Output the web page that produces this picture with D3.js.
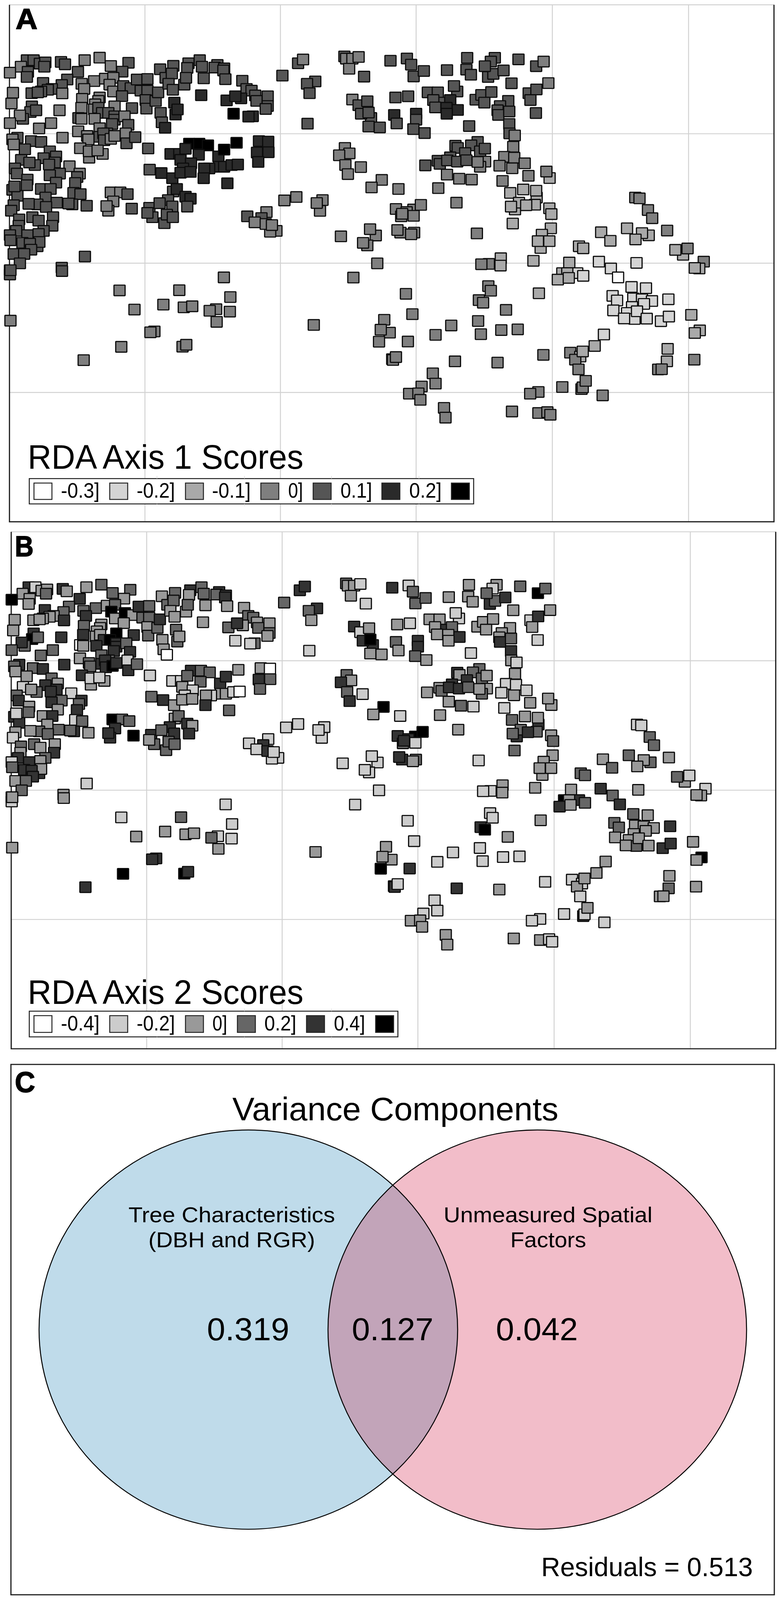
<!DOCTYPE html>
<html>
<head>
<meta charset="utf-8">
<title>RDA scores and variance components</title>
<script src="https://cdn.jsdelivr.net/npm/d3@7"></script>
<style>
	html, body { margin: 0; padding: 0; background: #fff; overflow: hidden; }
	text { font-family: "Liberation Sans", Arial, sans-serif; fill: #000; }
</style>
</head>
<body>
<div id="viz_area"></div>
<script>
// each row is [x, y, axis 1 class, axis 2 class], positions read from the picture in map units
// the map was read in four blocks, they get joined in allTrees()
var treesNW = [
	[108,352,4,4],[135,352,4,1],[160,372,4,2],[182,365,4,2],[178,390,4,3],[84,390,3,2],[40,425,3,5],
	[112,420,4,2],[108,450,4,2],[245,362,4,4],[261,376,4,2],[340,352,3,2],[400,337,3,3],[313,420,4,4],
	[445,386,3,3],[516,367,4,3],[491,419,4,2],[173,485,4,4],[270,465,4,3],[248,497,4,3],[208,520,4,2],
	[192,525,4,2],[165,535,4,2],[127,545,4,2],[152,540,4,2],[250,546,3,4],[328,490,3,3],[378,474,3,3],
	[422,460,3,2],[338,520,3,4],[455,455,3,3],[440,495,3,5],[455,535,3,2],[495,503,4,5],[525,515,4,2],
	[550,465,4,4],[592,462,4,3],[565,530,4,3],[592,530,4,3],[490,562,4,2],[400,570,3,2],[330,578,3,3],
	[395,590,3,2],[52,542,3,2],[46,605,3,2],[128,622,4,4],[122,655,4,5],[145,645,4,3],[239,645,3,4],
	[92,695,4,3],[80,675,3,4],[40,720,3,3],[205,720,3,3],[157,751,3,3],[382,610,3,2],[327,630,3,4],
	[378,640,3,2],[460,622,3,5],[530,632,4,4],[585,585,4,2],[588,635,4,3],[625,590,4,3],[635,540,4,4],
	[645,660,4,2],[700,600,5,3],[705,670,5,3],[713,640,5,2],[650,715,4,2],[663,747,5,0],[643,405,4,2],
	[696,385,4,3],[665,455,4,3],[690,430,4,3],[677,490,4,2],[694,525,4,2],[740,495,4,2],[757,370,4,4],
	[752,397,4,2],[747,455,4,3],[802,352,4,3],[811,390,4,3],[873,380,4,4],[862,395,4,3],[900,400,4,4],
	[897,412,4,4],[905,463,4,2],[818,458,4,2],[808,557,5,2],[910,587,5,3],[973,472,4,2],[990,520,4,3],
	[1010,530,4,3],[968,575,5,2],[945,563,5,4],[1025,558,4,2],[1075,563,4,2],[1030,590,4,3],[1075,620,4,3],
	[1067,637,4,2],[938,665,6,1],[1015,680,5,3],[998,682,5,1],
	[315,690,4,0],[327,695,3,2],[395,630,4,2],[410,660,4,4],[435,660,4,5],[460,680,4,4],[460,700,4,4],
	[500,680,3,3],[380,695,3,4],[450,725,4,4],[515,730,4,4],[400,750,3,3],[430,780,4,3],[400,800,4,4],
	[415,780,4,4],[505,780,3,1],[314,768,3,2],[350,795,3,3],[355,815,3,3],[418,820,4,4],[445,812,3,5],
	[460,795,3,4],[508,838,4,4],[543,802,4,3],[251,805,3,4],[322,867,3,4],[412,900,3,2],[358,922,3,2],
	[357,885,3,1],[392,880,3,1],
	[70,805,4,4],[50,815,3,3],[125,825,4,3],[165,830,4,4],[55,845,3,2],[100,873,4,2],[200,885,4,3],
	[85,935,4,1],[225,915,4,2],[175,925,4,4],[140,965,4,3],[118,950,4,2],[220,950,4,4],[197,962,4,4],
	[279,972,3,1],[60,985,4,3],[68,1015,4,4],[240,1015,4,3],[200,1025,4,4],[225,1068,4,2],[320,1015,3,4],
	[310,1035,4,3],[302,1070,4,4],[110,1050,4,2],[50,1110,4,4],[70,1145,4,4],[58,1090,4,1],[108,1083,4,3],
	[165,1105,4,2],[203,1105,4,4],[183,1155,4,2],[295,1128,4,1],[323,1135,4,3],[445,1125,3,5],[483,1125,3,3],
	[512,1135,4,3],[455,1178,3,4],[435,1232,3,4],[428,1205,3,4],[529,1220,4,5],[348,1203,4,2],[290,1195,4,4],
	[275,1190,4,3],[228,1185,4,3],[150,1195,4,3],[115,1192,4,2],[185,1210,4,3],[55,1200,4,2],[45,1232,4,1],
	[130,1270,4,3],[155,1290,4,2],[213,1270,4,2],[210,1320,4,4],[175,1350,4,3],[77,1283,4,3],[75,1320,4,2],
	[65,1350,4,4],[110,1375,4,4],[40,1375,4,1],[42,1405,4,3],[155,1368,4,2],[150,1440,4,4],[158,1415,4,2],
	[90,1420,4,4],[120,1425,4,4],[125,1460,4,4],[55,1485,4,2],[97,1485,4,3],[80,1540,4,3],[341,1500,4,1],
	[248,1565,4,2],[40,1580,4,2],
	[595,868,4,1],[601,992,4,3],[648,1012,5,4],[692,1042,5,2],[685,900,5,1],[720,900,5,1],[725,935,5,2],
	[760,840,6,4],[800,840,6,3],[835,850,6,3],[745,870,5,3],[798,905,5,3],[877,915,5,4],[900,875,6,4],
	[950,835,6,2],[1040,825,5,2],[1077,828,5,0],[1032,892,5,4],[1078,890,5,3],[1037,947,5,3],[880,975,5,2],
	[900,975,5,2],[930,965,5,1],[955,962,5,0],[840,985,5,1],[820,985,5,2],[767,955,5,1],[735,985,5,1],
	[725,1010,5,2],[765,1005,5,2],[818,1042,5,4],[913,1072,5,3],[695,1120,4,2],[710,1105,5,3],[745,1150,5,4],
	[765,1162,5,2],[752,1208,4,4],[675,1170,4,4],[600,1215,4,4],[612,1270,4,3],[641,1188,4,3],[692,1207,4,4],
	[660,1305,4,3],[592,1245,4,2],[670,1255,4,3],[694,1270,4,3],
	[1134,442,4,3],[1197,370,4,4],[1217,348,3,4],[1266,476,4,4],[1233,490,4,3],[1243,545,4,2],[1235,723,4,1],
	[1383,330,4,3],[1390,343,3,2],[1415,343,3,2],[1440,333,3,1],[1402,402,3,2],[1462,448,4,1],[1415,582,3,4],
	[1440,615,4,1],[1475,592,4,2],[1490,690,4,4],[1450,665,4,4],[1480,658,4,5],[1480,740,4,2],[1525,745,4,2],
	[1385,865,3,3],[1403,897,3,2],[1362,908,3,4],[1387,965,3,3],[1397,1018,3,4],[1449,977,3,1],[1533,1052,3,5],
	[1492,1096,3,2],[1142,1172,3,1],[1190,1152,3,1],[1295,1170,3,1],[1285,1233,3,1],[1272,1187,3,1],[993,1265,4,1],
	[1070,1240,3,1],[1050,1275,4,4],[1023,1300,3,1],[1110,1350,3,1],[1085,1355,3,1],[1067,1310,3,4],[1092,1316,3,1],
	[1369,1382,3,1],[1509,1377,3,1],[1486,1340,3,1],[1475,1435,3,1],[1458,1420,3,1],[1515,1540,3,1]
];

var treesNE = [
	[0,355,4,4],[66,342,4,1],[83,378,4,3],[93,447,4,3],[134,415,4,3],[227,410,4,2],[308,338,4,2],[305,407,4,2],
	[323,437,4,2],[419,338,4,2],[403,360,4,1],[392,450,4,4],[413,432,4,3],[454,412,4,4],[379,387,4,3],[514,347,4,3],
	[585,387,4,5],[615,360,3,3],[486,487,4,2],[634,486,3,2],[555,545,4,1],[586,523,4,4],[562,585,4,2],[584,661,4,1],
	[20,570,4,2],[71,563,4,1],[268,535,4,1],[255,503,4,1],[150,540,4,2],[190,540,4,2],[200,600,4,4],[240,585,5,3],
	[172,585,4,2],[180,628,4,2],[270,643,5,4],[225,630,5,2],[226,665,5,2],[342,583,4,2],[365,555,4,2],[405,538,4,2],
	[377,600,4,2],[473,590,4,2],[440,620,4,2],[430,645,4,2],[433,672,4,4],[477,652,4,3],[477,725,4,4],[478,780,4,2],
	[499,792,3,1],[493,858,3,2],[316,737,4,1],[103,665,5,4],[103,700,4,4],[15,672,5,3],[25,722,4,2],[92,755,4,3],
	[137,778,4,2],[261,852,4,4],[270,865,4,2],[350,830,4,3],[324,850,4,3],[360,885,4,3],[379,869,4,2],[240,920,4,4],
	[300,895,4,4],[190,940,4,2],[198,958,4,3],[140,967,4,2],[380,945,3,2],[360,975,3,3],[228,938,4,4],[268,945,4,4],
	[305,937,4,3],[350,947,3,2],[457,917,3,1],[497,922,3,1],[438,969,3,1],[539,955,3,1],[489,984,3,2],[227,1021,3,2],
	[276,1045,3,3],[326,1050,3,1],[554,1028,3,2],[450,1058,3,1],[639,1041,2,2],[626,1003,3,2],[32,1105,3,1],
	[192,1100,3,2],[265,1185,3,2],[587,1155,2,4],[533,1108,2,2],[481,1128,2,3],[585,1115,2,2],[500,1225,2,4],
	[516,1185,2,3],[580,1197,2,3],[545,1200,2,4],[484,1208,2,3],[638,1218,2,2],[646,1252,2,3],[491,1307,2,3],
	[644,1335,2,2],[603,1450,2,2],[608,1372,2,2],[592,1410,2,2],[638,1410,2,2],[92,1225,3,5],[122,1198,3,5],
	[22,1222,3,4],[65,1240,3,4],[43,1265,3,3],[47,1250,3,4],[93,1262,3,1],[40,1360,3,4],[28,1345,3,4],[95,1360,3,3],
	[83,1370,3,2],[347,1365,3,1],[757,1440,2,3],[774,1452,2,3],[846,1358,2,2],[883,1408,2,3],[950,1335,2,3],
	[1037,1376,2,3],[1010,1363,2,2],[984,1400,2,2],[1111,1348,3,2],[1175,1490,2,2],[1144,1461,2,3],[1193,1453,3,1],
	[983,1155,3,1],[1000,1160,3,1],[1034,1228,3,3],[1051,1276,3,3]
];

var treesSW = [
	[40,80,4,1],[42,55,4,2],[249,60,4,2],[480,173,3,1],[720,172,3,3],[899,97,3,1],[925,212,3,1],[656,256,3,2],
	[540,285,3,2],[738,272,3,2],[772,266,3,2],[868,283,3,1],[870,357,3,2],[842,292,3,3],[923,297,3,1],[42,350,3,2],
	[620,413,3,4],[604,418,3,4],[733,502,3,5],[748,491,3,4],[487,503,3,5],[336,581,3,4],[1260,375,3,2],[1419,98,3,1],
	[1543,345,3,2],[1565,420,3,2],[1529,403,3,2],[1522,473,3,5],[1575,575,3,5]
];

var treesSE = [
	[395,18,3,1],[365,20,3,1],[443,-15,2,2],[442,28,2,2],[574,0,2,2],[718,10,2,2],[837,5,1,4],[988,12,1,2],[1258,5,3,1],
	[885,45,1,3],[1240,45,2,2],[1222,42,2,2],[690,72,2,5],[750,72,1,4],[710,72,2,2],[672,110,2,4],[716,100,2,2],
	[774,88,1,3],[914,97,0,4],[968,153,1,3],[1026,160,1,2],[892,205,1,3],[910,232,1,3],[1116,225,1,4],[975,220,1,2],
	[1010,225,1,2],[1050,235,1,2],[1018,252,1,2],[895,290,1,2],[970,270,1,2],[950,305,1,2],[980,340,1,3],[990,295,1,2],
	[938,337,1,2],[1029,338,1,2],[1086,353,1,4],[1118,326,1,4],[1208,316,2,2],[1242,407,2,5],[1222,422,2,2],[857,431,1,2],
	[820,498,2,2],[722,537,3,1],[762,560,2,1],[742,578,3,2],[772,530,2,2],[755,635,3,1],[767,750,3,4],[772,740,3,1],
	[784,702,3,2],[690,738,3,1],[852,787,3,1],[596,190,2,2],[1113,515,2,2],[1110,588,2,3],[1075,635,3,2],[1089,634,3,2],
	[1220,578,3,2],[614,550,3,1],[430,595,3,2],[259,588,3,4],[170,658,3,1],[181,718,3,1],[125,735,3,1],[75,777,3,2],
	[112,775,3,2],[120,813,3,2],[215,860,3,2],[221,917,3,2],[488,881,3,2],[594,767,3,1],[561,777,3,1],[594,890,3,2],
	[630,885,3,1],[642,900,3,1],[62,193,3,1],[88,312,3,1],[393,148,3,1],[403,175,3,1],[355,230,3,4],[372,245,3,5],
	[464,287,3,2],[352,352,3,1],[363,429,3,1],[445,405,3,1],[511,401,3,1],[244,378,3,1],[181,433,3,1],[70,472,3,4],
	[10,580,3,4],[22,563,3,1]
];

// grid lines and frame in the same map units
var gridX = [582, 1126, 1671, 2218, 2765];
var gridY = [28, 782, 1539, 2295];
var frameLeft = 38, frameRight = 3108, frameBottom = 3051;

// legends
var classesA = ["-0.3]", "-0.2]", "-0.1]", "0]", "0.1]", "0.2]", ""];
var greysA = ["#ffffff", "#d4d4d4", "#a9a9a9", "#7f7f7f", "#555555", "#2a2a2a", "#000000"];
var classesB = ["-0.4]", "-0.2]", "0]", "0.2]", "0.4]", ""];
var greysB = ["#ffffff", "#cccccc", "#999999", "#666666", "#333333", "#000000"];

// venn
var vennLabels = [["Tree Characteristics", "(DBH and RGR)"], ["Unmeasured Spatial", "Factors"]];
var vennValues = ["0.319", "0.127", "0.042"];
var residuals = "Residuals = 0.513";

var W = 1995, H = 4296;

// the window has less room than the layout is tall, so fit the whole layout into it
var svg = d3.select("#viz_area")
			.append("svg")
			.attr("width", W)
			.attr("height", Math.min(H, window.innerHeight))
			.attr("viewBox", "0 0 " + W + " " + H)
			.attr("preserveAspectRatio", "none")
			.style("display", "block");

svg.append("rect").attr("width", W).attr("height", H).attr("fill", "#fff");

function allTrees() {
	function shift(rows, dx, dy) {
		return rows.map(function(r) { return { x: r[0] + dx, y: r[1] + dy, a: r[2], b: r[3] }; });
	}
	return [].concat(
		shift(treesNW, 0, 0),
		shift(treesNE, 1568, 0),
		shift(treesSW, 0, 1525),
		shift(treesSE, 1568, 1525)
	);
}

// squeezed text, the original font is narrower than anything installed
function label(parent, str, x0, x1, baseline, size, weight) {
	return parent.append("text")
		.attr("x", x0)
		.attr("y", baseline)
		.attr("font-size", size)
		.attr("font-weight", weight || "normal")
		.attr("textLength", x1 - x0)
		.attr("lengthAdjust", "spacingAndGlyphs")
		.text(str);
}

function mapPanel(opt) {
	var x = d3.scaleLinear().domain([0, 1568]).range([opt.dx, opt.dx + 1000]);
	var y = d3.scaleLinear().domain([0, 1568]).range([opt.dy, opt.dy + 720]);
	var g = svg.append("g");

	// grid
	g.selectAll("line.gx").data(gridX).enter().append("line")
		.attr("x1", (d) => x(d)).attr("x2", (d) => x(d))
		.attr("y1", y(gridY[0])).attr("y2", y(frameBottom))
		.attr("stroke", "#d2d2d2").attr("stroke-width", 2.5);
	g.selectAll("line.gy").data(gridY).enter().append("line")
		.attr("x1", x(frameLeft)).attr("x2", x(frameRight))
		.attr("y1", (d) => y(d)).attr("y2", (d) => y(d))
		.attr("stroke", "#d2d2d2").attr("stroke-width", 2.5);

	// frame has no dark top side
	g.append("path")
		.attr("d", "M" + x(frameLeft) + "," + y(gridY[0]) + "V" + y(frameBottom) + "H" + x(frameRight) + "V" + y(gridY[0]))
		.attr("fill", "none")
		.attr("stroke", "#1c1c1c")
		.attr("stroke-width", 3);

	// trees
	var size = 28.5;
	g.selectAll("rect.tree").data(allTrees()).enter().append("rect")
		.attr("class", "tree")
		.attr("x", (d) => x(d.x) - size / 2)
		.attr("y", (d) => y(d.y) - size / 2)
		.attr("width", size)
		.attr("height", size)
		.attr("rx", 1)
		.attr("fill", (d) => opt.greys[d[opt.key]])
		.attr("stroke", "#0c0c0c")
		.attr("stroke-width", 3);

	// panel letter
	label(svg, opt.letter, opt.letterX[0], opt.letterX[1], opt.letterY, 78, "bold")
		.attr("stroke", "#000").attr("stroke-width", 2);

	// legend title and box
	label(svg, opt.title, 71, 777, opt.titleY, 92);
	svg.append("rect")
		.attr("x", 75).attr("y", opt.boxY)
		.attr("width", opt.boxW).attr("height", opt.boxH)
		.attr("fill", "#fff").attr("stroke", "#1c1c1c").attr("stroke-width", 2.5);

	// little stubs of an older grid stick out round the box
	[402, 626, 849, 1073].filter((d) => d < 75 + opt.boxW).forEach(function(sx) {
		[[opt.boxY - 7, opt.boxY], [opt.boxY + opt.boxH, opt.boxY + opt.boxH + 6]].forEach(function(s) {
			svg.append("line").attr("x1", sx).attr("x2", sx).attr("y1", s[0]).attr("y2", s[1])
				.attr("stroke", "#d8d8d8").attr("stroke-width", 1.5);
		});
	});

	opt.greys.forEach(function(c, i) {
		svg.append("rect")
			.attr("x", opt.swatchX[i] + 1).attr("y", opt.boxY + 12)
			.attr("width", 46).attr("height", opt.boxH - 24)
			.attr("fill", c).attr("stroke", "#222").attr("stroke-width", 2.5);
		if (opt.classes[i]) {
			label(svg, opt.classes[i], opt.labelX[i][0], opt.labelX[i][1], opt.boxY + opt.boxH - 17, 57);
		}
	});
}

mapPanel({
	dx: 0, dy: 0, key: "a", greys: greysA, classes: classesA,
	letter: "A", letterX: [40, 96], letterY: 78,
	title: "RDA Axis 1 Scores", titleY: 1259,
	boxY: 1285, boxW: 1138, boxH: 68,
	swatchX: [86, 280, 474, 667, 801, 977, 1155],
	labelX: [[156, 255], [350, 448], [543, 642], [738, 776], [872, 953], [1048, 1131]]
});

mapPanel({
	dx: 4.5, dy: 1415, key: "b", greys: greysB, classes: classesB,
	letter: "B", letterX: [38, 86], letterY: 1494,
	title: "RDA Axis 2 Scores", titleY: 2696,
	boxY: 2715, boxW: 944, boxH: 69,
	swatchX: [86, 280, 474, 607, 784, 961],
	labelX: [[156, 255], [350, 448], [544, 582], [677, 759], [855, 935]]
});

// panel C
svg.append("rect")
	.attr("x", 28).attr("y", 2858).attr("width", 1955).attr("height", 1424)
	.attr("fill", "none").attr("stroke", "#1c1c1c").attr("stroke-width", 3);
label(svg, "C", 38, 90, 2933, 78, "bold").attr("stroke", "#000").attr("stroke-width", 2);

var vennR = 536, vennY = 3570;
var vennX = [636, 1376];
var defs = svg.append("defs");
defs.append("clipPath").attr("id", "clipBlue").append("circle")
	.attr("cx", vennX[0]).attr("cy", vennY).attr("r", vennR);

svg.append("circle").attr("cx", vennX[0]).attr("cy", vennY).attr("r", vennR).attr("fill", "#bfdbea");
svg.append("circle").attr("cx", vennX[1]).attr("cy", vennY).attr("r", vennR).attr("fill", "#f2bdc9");
svg.append("circle").attr("cx", vennX[1]).attr("cy", vennY).attr("r", vennR).attr("fill", "#c2a4b9")
	.attr("clip-path", "url(#clipBlue)");
vennX.forEach(function(cx) {
	svg.append("circle").attr("cx", cx).attr("cy", vennY).attr("r", vennR)
		.attr("fill", "none").attr("stroke", "#000").attr("stroke-width", 2.5);
});

label(svg, "Variance Components", 595, 1430, 3008, 88);
label(svg, vennLabels[0][0], 329, 858, 3282, 58);
label(svg, vennLabels[0][1], 380, 807, 3349, 58);
label(svg, vennLabels[1][0], 1136, 1671, 3282, 58);
label(svg, vennLabels[1][1], 1307, 1501, 3349, 58);
label(svg, vennValues[0], 530, 741, 3599, 86);
label(svg, vennValues[1], 901, 1110, 3599, 86);
label(svg, vennValues[2], 1270, 1480, 3599, 86);
label(svg, residuals, 1386, 1928, 4232, 72);
</script>
</body>
</html>
